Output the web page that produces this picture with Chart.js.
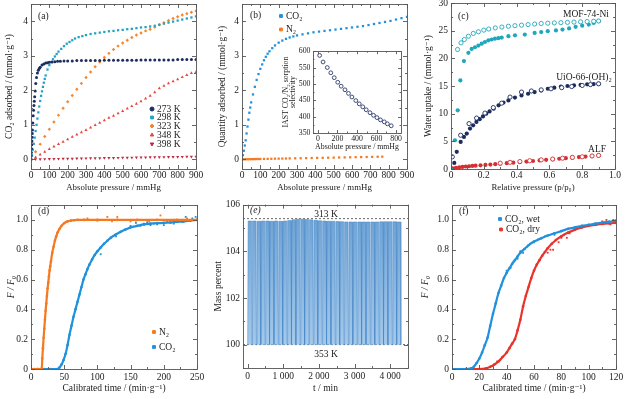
<!DOCTYPE html>
<html>
<head>
<meta charset="utf-8">
<script src="https://cdn.jsdelivr.net/npm/chart.js@4.4.1/dist/chart.umd.min.js"></script>
<style>
  body { margin: 0; background: #fff; width: 627px; height: 399px; position: relative; overflow: hidden; }
  canvas { position: absolute; }
</style>
</head>
<body>
<canvas id="ca"></canvas>
<canvas id="cb"></canvas>
<canvas id="cbi"></canvas>
<canvas id="cc"></canvas>
<canvas id="cd"></canvas>
<canvas id="ce"></canvas>
<canvas id="cf"></canvas>
<script>
// ---- (a) CO2 isotherms at five temperatures
const a273X = [0,1,2,3,4,5,6,7,8,10,12,14,16,18,20,23,26,30,35,40,45,50,60,70,80,90,100,115,130,145,160,180,200,225,250,275,300,325,350,375,400,425,450,475,500,525,550,575,600,625,650,675,700,725,750,775,800,825,850,875,900];
const a273Y = [0,0.1,0.2,0.31,0.42,0.53,0.64,0.75,0.85,1.05,1.26,1.42,1.56,1.68,1.81,1.98,2.2,2.37,2.5,2.58,2.63,2.67,2.73,2.76,2.79,2.8,2.81,2.82,2.83,2.84,2.84,2.85,2.85,2.85,2.86,2.86,2.86,2.86,2.86,2.86,2.87,2.87,2.87,2.87,2.87,2.87,2.87,2.87,2.88,2.88,2.88,2.88,2.88,2.88,2.88,2.88,2.89,2.89,2.89,2.89,2.89];
const a298X = [0,5,10,15,20,25,30,35,40,45,50,55,60,65,70,75,80,90,100,110,120,130,140,150,165,180,195,210,225,240,260,280,300,325,350,375,400,425,450,475,500,525,550,575,600,625,650,675,700,725,750,775,800,825,850,875,900];
const a298Y = [0,0.12,0.28,0.45,0.63,0.82,1.0,1.18,1.36,1.53,1.69,1.84,1.97,2.1,2.22,2.33,2.43,2.6,2.73,2.82,2.9,2.98,3.05,3.12,3.2,3.28,3.35,3.4,3.45,3.5,3.54,3.57,3.6,3.63,3.65,3.67,3.69,3.71,3.72,3.74,3.75,3.77,3.78,3.8,3.82,3.83,3.85,3.87,3.9,3.93,3.96,3.99,4.02,4.05,4.08,4.11,4.14];
const a323X = [0,25,50,75,100,125,150,175,200,225,250,275,300,325,350,375,400,425,450,475,500,525,550,575,600,625,650,675,700,725,750,775,800,825,850,875,900];
const a323Y = [0,0.22,0.44,0.66,0.87,1.08,1.28,1.48,1.67,1.85,2.03,2.2,2.37,2.53,2.68,2.82,2.95,3.07,3.18,3.28,3.37,3.45,3.53,3.6,3.66,3.72,3.77,3.83,3.9,3.96,4.02,4.08,4.13,4.18,4.22,4.26,4.3];
const a348X = [0,25,50,75,100,125,150,175,200,225,250,275,300,325,350,375,400,425,450,475,500,525,550,575,600,625,650,675,700,725,750,775,800,825,850,875,900];
const a348Y = [0,0.06,0.14,0.22,0.3,0.37,0.44,0.51,0.58,0.65,0.72,0.78,0.85,0.92,0.99,1.06,1.13,1.2,1.26,1.33,1.4,1.47,1.54,1.61,1.68,1.76,1.84,1.94,2.06,2.13,2.2,2.26,2.32,2.38,2.44,2.5,2.53];
const a398X = [0,25,50,75,100,125,150,175,200,225,250,275,300,325,350,375,400,425,450,475,500,525,550,575,600,625,650,675,700,725,750,775,800,825,850,875,900];
const a398Y = [0,0.003,0.005,0.008,0.01,0.012,0.015,0.017,0.02,0.022,0.025,0.027,0.03,0.032,0.034,0.036,0.039,0.041,0.043,0.045,0.047,0.05,0.052,0.054,0.056,0.058,0.06,0.062,0.064,0.066,0.068,0.07,0.072,0.074,0.076,0.078,0.08];
const pressTicks = [0,100,200,300,400,500,600,700,800,900];
const uptakeTicks = [0,1,2,3,4];

// ---- (b) CO2 / N2 isotherms + IAST selectivity inset
const bCO2X = [0,5,10,15,20,25,30,35,40,45,50,60,70,80,90,100,110,120,130,140,150,165,180,200,220,240,260,280,300,330,360,390,420,450,480,510,540,570,600,630,660,690,720,750,780,810,840,870,900];
const bCO2Y = [0,0.12,0.25,0.4,0.55,0.75,0.95,1.15,1.35,1.5,1.65,1.88,2.1,2.3,2.47,2.62,2.75,2.87,2.97,3.06,3.13,3.22,3.3,3.38,3.44,3.49,3.53,3.56,3.59,3.62,3.65,3.68,3.7,3.72,3.74,3.76,3.78,3.8,3.82,3.84,3.86,3.89,3.92,3.95,3.98,4.01,4.05,4.09,4.13];
const bN2X = [0,10,20,30,40,50,60,70,80,90,100,120,140,160,180,200,220,240,260,290,320,350,380,410,440,470,500,530,560,590,620,650,680,710,740,765];
const bN2Y = [0,0.001,0.002,0.003,0.004,0.005,0.006,0.007,0.008,0.009,0.01,0.012,0.014,0.016,0.018,0.02,0.022,0.024,0.026,0.029,0.032,0.035,0.038,0.041,0.044,0.047,0.05,0.053,0.056,0.059,0.062,0.065,0.068,0.071,0.074,0.077];
const bSelX = [18,53,96,132,167,203,238,277,313,348,388,423,459,494,533,569,604,640,679,711,750];
const bSelY = [587,567,550,534,519,505,493,482,471,460,449,439,430,421,412,404,397,390,384,378,372];
const insetTicksX = [0,200,400,600,800];
const insetTicksY = [350,400,450,500,550,600];

// ---- (c) water isotherms (filled = adsorption, open = desorption)
const cMofAdsX = [0,0.024,0.041,0.057,0.079,0.106,0.126,0.146,0.167,0.187,0.207,0.228,0.248,0.268,0.289,0.309,0.35,0.39,0.45,0.51,0.55,0.59,0.64,0.68,0.72,0.76,0.8,0.84,0.87,0.9];
const cMofAdsY = [0,5.2,10.6,16.0,19.5,21.0,21.7,22.0,22.3,22.65,22.95,23.25,23.4,23.55,23.65,23.75,24.0,24.15,24.3,24.6,24.75,24.9,25.05,25.2,25.4,25.7,25.9,26.1,26.4,26.7];
const cMofDesX = [0.04,0.061,0.081,0.106,0.136,0.167,0.2,0.23,0.27,0.31,0.35,0.39,0.43,0.47,0.51,0.55,0.59,0.63,0.67,0.71,0.75,0.79,0.83,0.87,0.9];
const cMofDesY = [21.6,22.8,23.4,24.0,24.5,24.8,25.1,25.3,25.5,25.65,25.8,25.9,26.0,26.1,26.2,26.3,26.35,26.4,26.45,26.5,26.55,26.6,26.65,26.7,26.75];
const cUioAdsX = [0,0.02,0.035,0.059,0.079,0.096,0.116,0.135,0.155,0.175,0.195,0.215,0.235,0.26,0.29,0.32,0.35,0.39,0.43,0.47,0.51,0.55,0.59,0.63,0.67,0.71,0.75,0.79,0.83,0.87,0.9];
const cUioAdsY = [0,1.1,3.1,4.9,5.8,6.4,7.3,7.9,8.5,9.0,9.5,10.0,10.4,10.9,11.5,12.0,12.4,12.9,13.3,13.6,13.9,14.2,14.5,14.7,14.9,15.0,15.1,15.2,15.3,15.35,15.4];
const cUioDesX = [0.008,0.059,0.11,0.156,0.207,0.258,0.309,0.36,0.43,0.49,0.55,0.61,0.675,0.736,0.8,0.85,0.9];
const cUioDesY = [2.2,6.1,8.2,9.2,10.1,11.1,11.9,13.0,13.9,14.1,14.3,14.5,14.7,14.9,15.1,15.25,15.4];
const cAlfAdsX = [0,0.01,0.03,0.05,0.07,0.09,0.11,0.13,0.15,0.18,0.21,0.24,0.27,0.3,0.34,0.38,0.42,0.46,0.5,0.54,0.58,0.62,0.66,0.7,0.74,0.78,0.82,0.86,0.9];
const cAlfAdsY = [0,0.1,0.2,0.3,0.38,0.45,0.5,0.55,0.6,0.67,0.74,0.8,0.87,0.95,1.05,1.15,1.25,1.35,1.45,1.55,1.65,1.75,1.85,1.95,2.05,2.15,2.25,2.35,2.45];
const cAlfDesX = [0.3,0.36,0.42,0.48,0.55,0.62,0.68,0.74,0.8,0.86,0.9];
const cAlfDesY = [1.05,1.2,1.35,1.5,1.65,1.8,1.95,2.1,2.2,2.35,2.45];
const relPTicks = [0,0.2,0.4,0.6,0.8,1.0];
const waterTicks = [0,5,10,15,20,25,30];

// ---- (d) breakthrough curves
const dN2X = [0,5,10,14,16,17,18,19,20,21,22,23,24,25,26,27,28,29,30,32,34,36,38,40,43,46,50,55,60,65,70,80,100,130,160,190,220,250];
const dN2Y = [0,0,0,0,0,0.07,0.14,0.21,0.27,0.33,0.39,0.44,0.49,0.54,0.58,0.62,0.66,0.69,0.72,0.78,0.82,0.86,0.89,0.915,0.94,0.96,0.978,0.99,0.995,0.998,1.0,1.0,1.0,1.0,1.0,1.0,1.0,1.0];
const dN2NoiseX = [60,72,85,100,108,115,122,130,140,150,158,163,170,178,185,195,205,215,225,235,245];
const dN2NoiseY = [0.995,1.0,1.01,0.995,1.0,1.02,0.99,1.02,1.0,0.99,0.995,1.0,1.0,0.99,1.0,1.03,1.0,1.0,1.0,1.01,1.0];
const dCO2X = [0,10,20,30,40,43,46,49,52,55,58,61,64,67,70,73,76,79,82,85,88,92,96,100,105,110,115,120,127,135,142,150,160,170,180,190,200,210,220,230,240,250];
const dCO2Y = [0,0,0,0,0,0.01,0.03,0.06,0.1,0.16,0.23,0.29,0.35,0.4,0.45,0.5,0.55,0.6,0.635,0.67,0.7,0.735,0.765,0.79,0.815,0.84,0.86,0.88,0.9,0.92,0.935,0.95,0.96,0.97,0.975,0.978,0.98,0.983,0.987,0.99,0.995,1.0];
const dCO2NoiseX = [105,128,150,158,165,170,175,180,185,190,195,200,205,210,215,220,228,233,238,243,248];
const dCO2NoiseY = [0.77,0.89,0.96,0.98,0.96,0.975,0.985,0.965,0.975,0.97,0.98,0.965,0.985,0.98,0.975,0.99,0.985,1.02,1.0,1.01,1.02];
const dTimeTicks = [0,50,100,150,200,250];
const ratioTicks = [0,0.2,0.4,0.6,0.8,1.0];

// ---- (e) cycling (time, mass)
const eCycleT = [0,123,246,369,492,615,738,861,984,1107,1230,1353,1476,1599,1722,1845,1968,2091,2214,2337,2460,2583,2706,2829,2952,3075,3198,3321,3444,3567,3690,3813,3936,4059,4182];
const eSatT   = [15,138,261,384,507,630,753,876,999,1122,1245,1368,1491,1614,1737,1860,1983,2106,2229,2352,2475,2598,2721,2844,2967,3090,3213,3336,3459,3582,3705,3828,3951,4074,4197];
const eDesT   = [110,233,356,479,602,725,848,971,1094,1217,1340,1463,1586,1709,1832,1955,2078,2201,2324,2447,2570,2693,2816,2939,3062,3185,3308,3431,3554,3677,3800,3923,4046,4169,4292];
const ePeak   = [105.3,105.3,105.29,105.3,105.3,105.29,105.3,105.29,105.3,105.32,105.36,105.38,105.38,105.37,105.35,105.33,105.31,105.3,105.29,105.29,105.28,105.27,105.26,105.26,105.26,105.26,105.26,105.26,105.26,105.26,105.27,105.27,105.27,105.27,105.26];
const eEndT = 4300;
const eLevels = [105.4, 100];
const eTimeTicks = [0,1000,2000,3000,4000];
const eMassTicks = [100,102,104,106];

// ---- (f) wet / dry breakthrough
const fWetX = [0,10,14,16,18,20,22,24,26,28,30,32,34,36,38,40,42,44,46,48,50,53,56,60,65,70,75,80,85,90,95,100,105,110,115,120];
const fWetY = [0,0,0.005,0.015,0.04,0.07,0.11,0.16,0.21,0.29,0.37,0.44,0.51,0.56,0.61,0.645,0.675,0.705,0.73,0.755,0.78,0.805,0.83,0.855,0.875,0.895,0.91,0.925,0.94,0.95,0.96,0.967,0.975,0.982,0.988,0.995];
const fWetNoiseX = [40,43,45,48,50,52,55,57,60,63,68,75,85,95,105,112,118];
const fWetNoiseY = [0.66,0.68,0.72,0.74,0.79,0.78,0.82,0.84,0.85,0.87,0.89,0.9,0.94,0.95,0.97,0.98,1.0];
const fDryX = [0,20,25,28,31,34,37,40,42,44,46,48,50,52,54,56,58,60,62,64,66,68,70,73,76,80,85,90,95,100,105,110,115,120];
const fDryY = [0,0,0.005,0.015,0.03,0.05,0.08,0.11,0.14,0.17,0.2,0.26,0.33,0.42,0.49,0.55,0.61,0.66,0.7,0.73,0.76,0.785,0.81,0.84,0.865,0.89,0.915,0.935,0.95,0.96,0.967,0.973,0.977,0.98];
const fDryNoiseX = [30,33,35,70,72,74,78,80,82,84,86,110,113,116];
const fDryNoiseY = [0.02,0.05,0.06,0.78,0.8,0.8,0.85,0.88,0.9,0.88,0.91,0.99,1.0,0.97];
const fTimeTicks = [0,20,40,60,80,100,120];

const SERIF = "'Liberation Serif', 'DejaVu Serif', serif";
const INK = '#222';
const FRAME = '#555';

function pts(xs, ys) { return xs.map((x, i) => ({x: x, y: ys[i]})); }
function dec1(v) { return v === 0 ? '0' : v.toFixed(1); }
function thou(v) { return v >= 1000 ? String(v).replace(/\B(?=(\d{3})+(?!\d))/g, ' ') : String(v); }

// frame + inward ticks on all four sides
const frameTicks = {
  id: 'frameTicks',
  afterDatasetsDraw(chart, args, opts) {
    const {ctx, chartArea: a, scales} = chart;
    ctx.save();
    ctx.strokeStyle = FRAME;
    ctx.lineWidth = 0.9;
    ctx.beginPath();
    ['x', 'y'].forEach(k => {
      const s = scales[k];
      const vals = s.ticks.map(t => t.value);
      const step = vals.length > 1 ? vals[1] - vals[0] : 1;
      const sub = opts[k + 'Minor'] || 2;
      for (let i = -sub; i <= vals.length * sub; i++) {
        const v = vals[0] + i * step / sub;
        if (v < s.min - 1e-9 || v > s.max + 1e-9) continue;
        const len = i % sub === 0 ? opts.major || 4 : opts.minor || 2;
        const p = Math.round(s.getPixelForValue(v)) + 0.5;
        if (k === 'x') {
          ctx.moveTo(p, a.bottom); ctx.lineTo(p, a.bottom - len);
          ctx.moveTo(p, a.top); ctx.lineTo(p, a.top + len);
        } else {
          ctx.moveTo(a.left, p); ctx.lineTo(a.left + len, p);
          ctx.moveTo(a.right, p); ctx.lineTo(a.right - len, p);
        }
      }
    });
    ctx.stroke();
    ctx.strokeRect(Math.round(a.left) + 0.5, Math.round(a.top) + 0.5, Math.round(a.right - a.left), Math.round(a.bottom - a.top));
    ctx.restore();
  }
};

// panel letters, annotations and hand-placed legends
const notes = {
  id: 'notes',
  afterDraw(chart, args, opts) {
    const ctx = chart.ctx;
    const off = opts.off || {x: 0, y: 0};
    ctx.save();
    (opts.legend || []).forEach(it => {
      const ds = chart.data.datasets[it.ds];
      const x = it.x - off.x, y = it.y - off.y;
      ctx.fillStyle = ds.pointBackgroundColor || ds.backgroundColor;
      ctx.strokeStyle = ds.pointBorderColor || ds.borderColor;
      Chart.helpers.drawPoint(ctx, {pointStyle: ds.pointStyle || 'rect', rotation: ds.rotation || 0, radius: it.r || 2, borderWidth: 0.5}, x, y);
      ctx.fillStyle = INK;
      ctx.font = (it.size || 9.5) + 'px ' + SERIF;
      ctx.textAlign = 'left';
      ctx.textBaseline = 'middle';
      ctx.fillText(ds.label, x + 5, y);
    });
    (opts.items || []).forEach(it => {
      ctx.fillStyle = INK;
      ctx.font = (it.style ? it.style + ' ' : '') + (it.size || 9.5) + 'px ' + SERIF;
      ctx.textAlign = it.align || 'left';
      ctx.textBaseline = 'middle';
      ctx.fillText(it.t, it.x - off.x, it.y - off.y);
    });
    ctx.restore();
  }
};

function axis(o, horiz, box, area, fs) {
  const font = {family: SERIF, size: fs, lineHeight: 1.2};
  const tFont = Object.assign({}, font, o.titleFont || {});
  const lh = tFont.size * 1.2;
  return {
    type: 'linear',
    position: horiz ? 'bottom' : 'left',
    min: o.min, max: o.max,
    afterBuildTicks: s => { s.ticks = o.ticks.map(v => ({value: v})); },
    afterFit: s => { if (horiz) s.height = box.y + box.h - area.b; else s.width = area.l - box.x; },
    grid: {display: false, drawTicks: false},
    border: {display: false},
    ticks: {
      autoSkip: false, maxRotation: 0, minRotation: 0,
      color: INK, font: font, padding: o.pad,
      callback: o.fmt || (v => String(v))
    },
    title: {
      display: true, text: o.title, color: INK, font: tFont,
      padding: horiz ? {top: 0, bottom: box.y + box.h - lh / 2 - o.at}
                     : {top: o.at - box.x - lh / 2, bottom: 0}
    }
  };
}

function panel(id, box, area, datasets, xo, yo, noteOpts, minor, fs) {
  fs = fs || 9.5;
  const cv = document.getElementById(id);
  cv.width = box.w; cv.height = box.h;
  cv.style.left = box.x + 'px'; cv.style.top = box.y + 'px';
  noteOpts.off = {x: box.x, y: box.y};
  return new Chart(cv, {
    type: 'scatter',
    data: {datasets: datasets},
    options: {
      responsive: false, animation: false, events: [],
      layout: {autoPadding: false, padding: {left: 0, bottom: 0, top: area.t - box.y, right: box.x + box.w - area.r}},
      scales: {x: axis(xo, true, box, area, fs), y: axis(yo, false, box, area, fs)},
      plugins: {legend: {display: false}, tooltip: {enabled: false}, frameTicks: minor, notes: noteOpts}
    },
    plugins: [frameTicks, notes]
  });
}

function marks(label, xs, ys, color, style, r, extra) {
  return Object.assign({
    label: label, data: pts(xs, ys), showLine: false,
    pointStyle: style, pointRadius: r, borderWidth: 0,
    backgroundColor: color, borderColor: color,
    pointBackgroundColor: color, pointBorderColor: color
  }, extra || {});
}
function curve(label, xs, ys, color, w) {
  return {
    label: label, data: pts(xs, ys), showLine: true, borderColor: color, backgroundColor: color,
    borderWidth: w, pointRadius: 1.3, pointBackgroundColor: color, pointBorderWidth: 0, tension: 0.3
  };
}

const smallTitle = {size: 8.8};

// ---- (a)
panel('ca', {x: 0, y: -8, w: 215, h: 205}, {l: 31, t: 4, r: 196, b: 169}, [
  marks('273 K', a273X, a273Y, '#1d2d5f', 'circle', 1.5),
  marks('298 K', a298X, a298Y, '#21a3c4', 'rect', 1.6),
  marks('323 K', a323X, a323Y, '#f7862b', 'rectRot', 1.7),
  marks('348 K', a348X, a348Y, '#e8463c', 'triangle', 1.8),
  marks('398 K', a398X, a398Y, '#c0293f', 'triangle', 1.8, {rotation: 180})
], {min: 0, max: 900, ticks: pressTicks, pad: 1, at: 188, title: 'Absolute pressure / mmHg', titleFont: smallTitle},
   {min: -0.28, max: 4.5, ticks: uptakeTicks, pad: 3, at: 9, title: 'CO₂ adsorbed / (mmol·g⁻¹)'},
   {items: [{t: '(a)', x: 38, y: 16}],
    legend: [{ds: 0, x: 152, y: 109}, {ds: 1, x: 152, y: 117.5}, {ds: 2, x: 152, y: 126}, {ds: 3, x: 152, y: 135}, {ds: 4, x: 152, y: 144}]},
   {xMinor: 2, yMinor: 2});

// ---- (b)
panel('cb', {x: 212, y: -8, w: 210, h: 205}, {l: 242, t: 4, r: 407, b: 169}, [
  marks('CO₂', bCO2X, bCO2Y, '#2191dc', 'rect', 1.6),
  marks('N₂', bN2X, bN2Y, '#f47a22', 'rect', 1.6)
], {min: 0, max: 900, ticks: pressTicks, pad: 1, at: 188, title: 'Absolute pressure / mmHg', titleFont: smallTitle},
   {min: -0.28, max: 4.5, ticks: uptakeTicks, pad: 3, at: 222, title: 'Quantity adsorbed / (mmol·g⁻¹)'},
   {items: [{t: '(b)', x: 250, y: 15}],
    legend: [{ds: 0, x: 281, y: 16}, {ds: 1, x: 281, y: 29.5}]},
   {xMinor: 2, yMinor: 2});

// inset of (b)
panel('cbi', {x: 280, y: 44, w: 124, h: 112}, {l: 313, t: 50, r: 401, b: 133}, [
  marks('IAST', bSelX, bSelY, '#ffffff', 'circle', 1.9, {borderWidth: 0.9, pointBorderColor: '#2b3a6b', borderColor: '#2b3a6b'})
], {min: -50, max: 850, ticks: insetTicksX, pad: 1.5, at: 147, title: 'Absolute pressure / mmHg'},
   {min: 350, max: 600, ticks: insetTicksY, pad: 2.5, at: 287, title: ['IAST CO₂/N₂ sorption', 'selectivity'], titleFont: {lineHeight: 0.95}},
   {items: []},
   {xMinor: 2, yMinor: 2, major: 3, minor: 1.5}, 7.8);

// ---- (c)
panel('cc', {x: 418, y: -8, w: 209, h: 205}, {l: 451, t: 3, r: 615, b: 169}, [
  marks('MOF-74-Ni des', cMofDesX, cMofDesY, '#ffffff', 'circle', 2.1, {borderWidth: 0.9, pointBorderColor: '#21a7bb', borderColor: '#21a7bb'}),
  marks('MOF-74-Ni ads', cMofAdsX, cMofAdsY, '#21a7bb', 'circle', 2.1),
  marks('UiO des', cUioDesX, cUioDesY, '#ffffff', 'circle', 2.1, {borderWidth: 0.9, pointBorderColor: '#1d2b5e', borderColor: '#1d2b5e'}),
  marks('UiO ads', cUioAdsX, cUioAdsY, '#1d2b5e', 'circle', 2.1),
  marks('ALF des', cAlfDesX, cAlfDesY, '#ffffff', 'circle', 2.1, {borderWidth: 0.9, pointBorderColor: '#d42f33', borderColor: '#d42f33'}),
  marks('ALF ads', cAlfAdsX, cAlfAdsY, '#d42f33', 'circle', 2.1)
], {min: 0, max: 1, ticks: relPTicks, pad: 1, at: 188, title: 'Relative pressure (p/p₀)', fmt: dec1, titleFont: smallTitle},
   {min: 0, max: 30, ticks: waterTicks, pad: 3, at: 428, title: 'Water uptake / (mmol·g⁻¹)'},
   {items: [{t: '(c)', x: 458, y: 16}, {t: 'MOF-74-Ni', x: 586, y: 14, align: 'center'},
            {t: 'UiO-66-(OH)₂', x: 584, y: 77, align: 'center'}, {t: 'ALF', x: 597, y: 149, align: 'center'}]},
   {xMinor: 2, yMinor: 2});

// ---- (d)
panel('cd', {x: 0, y: 196, w: 215, h: 203}, {l: 31, t: 205, r: 197, b: 369}, [
  curve('N₂', dN2X, dN2Y, '#f47a22', 2.2),
  curve('CO₂', dCO2X, dCO2Y, '#2191dc', 2.2),
  marks('N₂ pts', dN2NoiseX, dN2NoiseY, '#f47a22', 'rect', 1.3),
  marks('CO₂ pts', dCO2NoiseX, dCO2NoiseY, '#2191dc', 'rect', 1.3)
], {min: 0, max: 250, ticks: dTimeTicks, pad: 3, at: 388, title: 'Calibrated time / (min·g⁻¹)'},
   {min: 0, max: 1.1, ticks: ratioTicks, pad: 3, at: 11, title: 'F / F₀', fmt: dec1, titleFont: {style: 'italic'}},
   {items: [{t: '(d)', x: 38, y: 211}],
    legend: [{ds: 0, x: 154, y: 332}, {ds: 1, x: 154, y: 347}]},
   {xMinor: 2, yMinor: 2});

// ---- (e)
const eData = [];
eCycleT.forEach((t, i) => {
  eData.push({x: t, y: 100}, {x: eSatT[i], y: ePeak[i]}, {x: eDesT[i], y: ePeak[i]});
});
eData.push({x: eEndT, y: 100});
const eFill = ctx => {
  const a = ctx.chart.chartArea;
  if (!a) return 'rgba(110,165,220,0.7)';
  const g = ctx.chart.ctx.createLinearGradient(0, a.top, 0, a.bottom);
  g.addColorStop(0, 'rgba(78,143,204,0.85)');
  g.addColorStop(1, 'rgba(160,200,236,0.85)');
  return g;
};
panel('ce', {x: 212, y: 196, w: 210, h: 203}, {l: 243, t: 203, r: 408, b: 368}, [
  {label: 'mass', data: eData, showLine: true, borderColor: 'rgba(70,135,200,0.75)', borderWidth: 0.7,
   pointRadius: 0, fill: {value: 100}, backgroundColor: eFill, tension: 0},
  {label: '313 K', data: [{x: -130, y: eLevels[0]}, {x: 4500, y: eLevels[0]}], showLine: true, borderColor: '#444', borderWidth: 0.8, borderDash: [2, 2], pointRadius: 0},
  {label: '353 K', data: [{x: -130, y: eLevels[1]}, {x: 4500, y: eLevels[1]}], showLine: true, borderColor: '#444', borderWidth: 0.8, borderDash: [2, 2], pointRadius: 0}
], {min: -130, max: 4500, ticks: eTimeTicks, pad: 3, at: 388, title: 't / min', fmt: thou},
   {min: 99, max: 106, ticks: eMassTicks, pad: 3, at: 218, title: 'Mass percent'},
   {items: [{t: '(e)', x: 250, y: 210, style: 'italic'}, {t: '313 K', x: 326, y: 214, align: 'center'}, {t: '353 K', x: 326, y: 354, align: 'center'}]},
   {xMinor: 2, yMinor: 2});

// ---- (f)
panel('cf', {x: 418, y: 196, w: 209, h: 203}, {l: 452, t: 205, r: 616, b: 369}, [
  curve('CO₂, wet', fWetX, fWetY, '#2191dc', 2.2),
  curve('CO₂, dry', fDryX, fDryY, '#e8342b', 2.2),
  marks('wet pts', fWetNoiseX, fWetNoiseY, '#2191dc', 'rect', 1.3),
  marks('dry pts', fDryNoiseX, fDryNoiseY, '#e8342b', 'rect', 1.3)
], {min: 0, max: 120, ticks: fTimeTicks, pad: 3, at: 388, title: 'Calibrated time / (min·g⁻¹)'},
   {min: 0, max: 1.1, ticks: ratioTicks, pad: 3, at: 425, title: 'F / F₀', fmt: dec1, titleFont: {style: 'italic'}},
   {items: [{t: '(f)', x: 459, y: 211}],
    legend: [{ds: 0, x: 500, y: 219}, {ds: 1, x: 501, y: 229.5}]},
   {xMinor: 2, yMinor: 2});
</script>
</body>
</html>
